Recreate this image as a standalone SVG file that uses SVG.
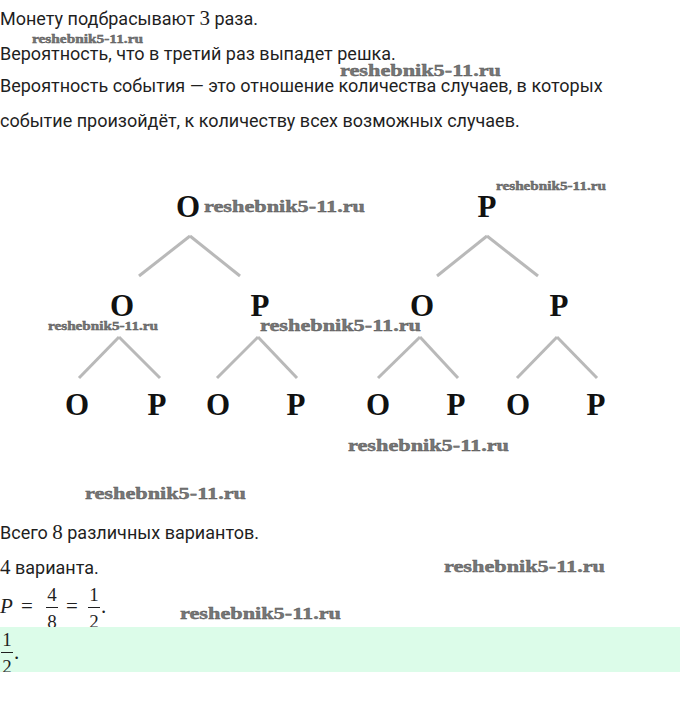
<svg xmlns="http://www.w3.org/2000/svg" width="680" height="705" viewBox="0 0 680 705">
<style>
.t{font-family:Roboto,"Liberation Sans",sans-serif;font-size:18px;fill:#1f1f1f}
.m{font-family:"Liberation Serif","DejaVu Serif",serif;font-size:21px;fill:#1f1f1f}
.mi{font-family:"Liberation Serif","DejaVu Serif",serif;font-size:21px;font-style:italic;fill:#1f1f1f}
.mf{font-family:"Liberation Serif","DejaVu Serif",serif;font-size:19px;fill:#1f1f1f;text-anchor:middle}
.n{font-family:"Liberation Serif","DejaVu Serif",serif;font-size:31px;font-weight:bold;fill:#111;text-anchor:middle}
.w{font-family:"Liberation Serif","DejaVu Serif",serif;font-weight:bold;fill:#777;stroke:#555;stroke-width:0.4}
.w1{font-size:17px}
.w2{font-size:12px}
.c line{stroke:#b9b9b9;stroke-width:3;stroke-linecap:butt}
.bar{stroke:#1f1f1f;stroke-width:1}
</style>
<rect width="680" height="705" fill="#fff"/>
<g id="text-top">
<text class="t" x="0" y="25">Монету подбрасывают <tspan class="m">3</tspan> раза.</text>
<text class="t" x="0" y="60">Вероятность, что в третий раз выпадет решка.</text>
<text class="t" x="0" y="92">Вероятность события — это отношение количества случаев, в которых</text>
<text class="t" x="0" y="127">событие произойдёт, к количеству всех возможных случаев.</text>
</g>
<g id="connectors" class="c">
<line x1="190" y1="236" x2="139" y2="276"/>
<line x1="190" y1="236" x2="240" y2="276"/>
<line x1="487" y1="236" x2="437" y2="276"/>
<line x1="487" y1="236" x2="538" y2="276"/>
<line x1="119" y1="337" x2="79" y2="378"/>
<line x1="119" y1="337" x2="160" y2="378"/>
<line x1="258" y1="337" x2="217" y2="378"/>
<line x1="258" y1="337" x2="297" y2="378"/>
<line x1="420" y1="337" x2="378" y2="378"/>
<line x1="420" y1="337" x2="458" y2="378"/>
<line x1="557" y1="337" x2="517" y2="378"/>
<line x1="557" y1="337" x2="597" y2="378"/>
</g>
<g id="n-root-o"><text class="n" x="188" y="217">O</text></g>
<g id="n-root-p"><text class="n" x="487" y="217">P</text></g>
<g id="n-2-o1"><text class="n" x="122" y="316">O</text></g>
<g id="n-2-p1"><text class="n" x="260" y="316">P</text></g>
<g id="n-2-o2"><text class="n" x="422" y="316">O</text></g>
<g id="n-2-p2"><text class="n" x="559" y="316">P</text></g>
<g id="n-3-1"><text class="n" x="77" y="415">O</text></g>
<g id="n-3-2"><text class="n" x="157" y="415">P</text></g>
<g id="n-3-3"><text class="n" x="218" y="415">O</text></g>
<g id="n-3-4"><text class="n" x="296" y="415">P</text></g>
<g id="n-3-5"><text class="n" x="378" y="415">O</text></g>
<g id="n-3-6"><text class="n" x="456" y="415">P</text></g>
<g id="n-3-7"><text class="n" x="518" y="415">O</text></g>
<g id="n-3-8"><text class="n" x="596" y="415">P</text></g>
<g id="text-bottom">
<text class="t" x="0" y="539">Всего <tspan class="m">8</tspan> различных вариантов.</text>
<text class="t" x="0" y="574"><tspan class="m">4</tspan> варианта.</text>
<text class="mi" x="0" y="613">P</text>
<text class="m" x="21" y="613">=</text>
<text class="mf" x="52" y="601">4</text>
<line class="bar" x1="46" y1="607.5" x2="58" y2="607.5"/>
<text class="mf" x="52" y="628">8</text>
<text class="m" x="66" y="613">=</text>
<text class="mf" x="94" y="601">1</text>
<line class="bar" x1="88" y1="607.5" x2="100" y2="607.5"/>
<text class="mf" x="94" y="628">2</text>
<text class="m" x="101" y="613">.</text>
</g>
<rect x="0" y="627" width="680" height="45" fill="#dcfce9"/>
<g id="answer">
<text class="mf" x="7" y="646">1</text>
<line class="bar" x1="1" y1="652.5" x2="13" y2="652.5"/>
<text class="mf" x="7" y="673">2</text>
<text class="m" x="14" y="659">.</text>
</g>
<rect x="0" y="672" width="680" height="33" fill="#fff"/>
<g id="watermarks">
<text class="w w2" x="32" y="43" textLength="111" lengthAdjust="spacingAndGlyphs">reshebnik5-11.ru</text>
<text class="w w1" x="340" y="76" textLength="161" lengthAdjust="spacingAndGlyphs">reshebnik5-11.ru</text>
<text class="w w1" x="204" y="212" textLength="161" lengthAdjust="spacingAndGlyphs">reshebnik5-11.ru</text>
<text class="w w2" x="496" y="190" textLength="110" lengthAdjust="spacingAndGlyphs">reshebnik5-11.ru</text>
<text class="w w2" x="48" y="330" textLength="110" lengthAdjust="spacingAndGlyphs">reshebnik5-11.ru</text>
<text class="w w1" x="260" y="331" textLength="161" lengthAdjust="spacingAndGlyphs">reshebnik5-11.ru</text>
<text class="w w1" x="348" y="451" textLength="161" lengthAdjust="spacingAndGlyphs">reshebnik5-11.ru</text>
<text class="w w1" x="85" y="499" textLength="161" lengthAdjust="spacingAndGlyphs">reshebnik5-11.ru</text>
<text class="w w1" x="444" y="572" textLength="161" lengthAdjust="spacingAndGlyphs">reshebnik5-11.ru</text>
<text class="w w1" x="180" y="619" textLength="161" lengthAdjust="spacingAndGlyphs">reshebnik5-11.ru</text>
</g>
</svg>
